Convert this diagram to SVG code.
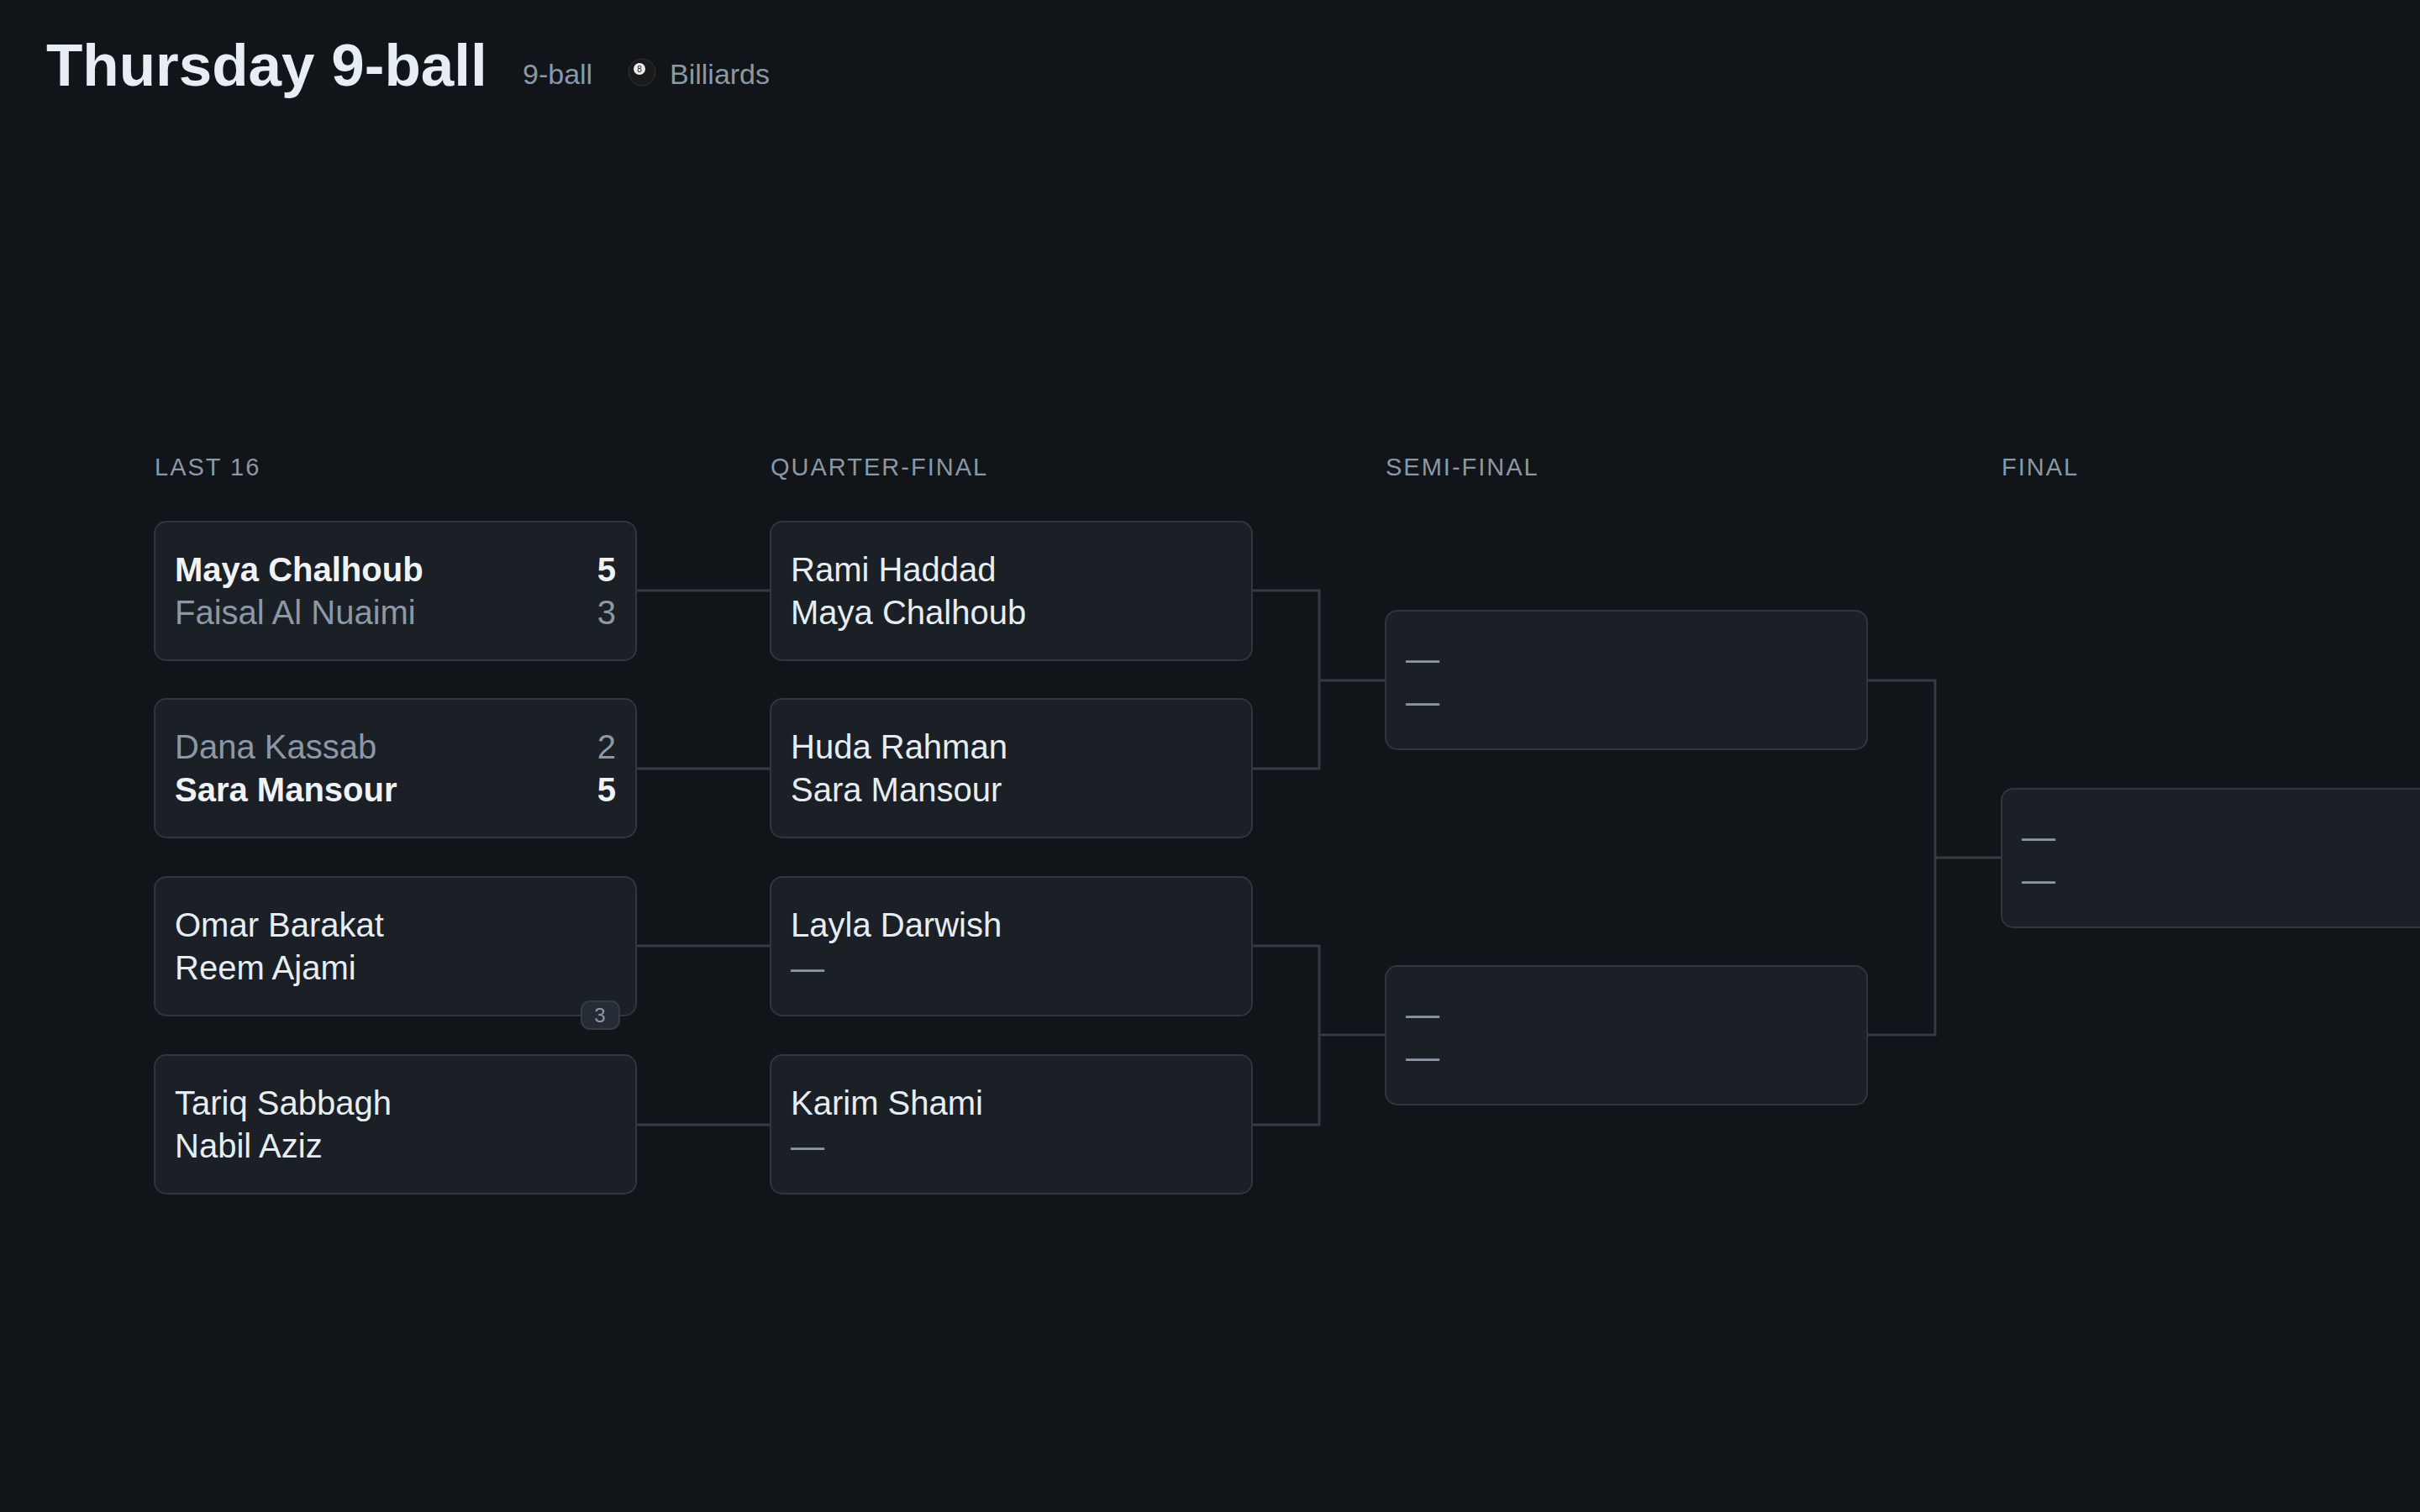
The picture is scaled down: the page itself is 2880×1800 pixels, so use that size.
<svg xmlns="http://www.w3.org/2000/svg" width="2880" height="1800" viewBox="0 0 2880 1800">
<style>
text{font-family:"Liberation Sans",Arial,sans-serif}
.box{fill:#1b1f26;stroke:#30363d;stroke-width:2}
.hd{font-size:29px;fill:#8b98a5;letter-spacing:2px}
.n{font-size:40px;fill:#e6edf3}
.w{font-size:40px;fill:#f0f3f6;font-weight:bold}
.l{font-size:40px;fill:#8b98a5}
.d{font-size:40px;fill:#8b98a5}
.c{fill:none;stroke:#353b44;stroke-width:3}
</style>
<rect width="2880" height="1800" fill="#111418"/>
<g id="header">
<text x="55" y="102" font-size="71" font-weight="bold" fill="#e6edf3">Thursday 9-ball</text>
<text x="622" y="100" font-size="34" fill="#8b98a5">9-ball</text>
<circle cx="764" cy="86" r="16" fill="#1a1a1a" stroke="#333" stroke-width="1"/>
<circle cx="761" cy="82" r="7" fill="#eee"/>
<text x="761" y="86" font-size="10" text-anchor="middle" fill="#111">8</text>
<text x="797" y="100" font-size="34" fill="#8b98a5">Billiards</text>
</g>
<g id="headers">
<text class="hd" x="184" y="566">LAST 16</text>
<text class="hd" x="917" y="566">QUARTER-FINAL</text>
<text class="hd" x="1649" y="566">SEMI-FINAL</text>
<text class="hd" x="2382" y="566">FINAL</text>
</g>
<g id="connectors">
<path class="c" d="M757 703H917M757 915H917M757 1126H917M757 1339H917"/>
<path class="c" d="M1490 703H1570V915H1490M1570 810H1649"/>
<path class="c" d="M1490 1126H1570V1339H1490M1570 1232H1649"/>
<path class="c" d="M2222 810H2303V1232H2222M2303 1021H2382"/>
</g>
<g id="r16-1"><rect class="box" x="184" y="621" width="573" height="165" rx="14"/>
<text class="w" x="208" y="692">Maya Chalhoub</text><text class="w" x="733" y="692" text-anchor="end">5</text>
<text class="l" x="208" y="743">Faisal Al Nuaimi</text><text class="l" x="733" y="743" text-anchor="end">3</text></g>
<g id="r16-2"><rect class="box" x="184" y="832" width="573" height="165" rx="14"/>
<text class="l" x="208" y="903">Dana Kassab</text><text class="l" x="733" y="903" text-anchor="end">2</text>
<text class="w" x="208" y="954">Sara Mansour</text><text class="w" x="733" y="954" text-anchor="end">5</text></g>
<g id="r16-3"><rect class="box" x="184" y="1044" width="573" height="165" rx="14"/>
<text class="n" x="208" y="1115">Omar Barakat</text>
<text class="n" x="208" y="1166">Reem Ajami</text>
<rect x="692" y="1192" width="45" height="33" rx="10" fill="#262c35" stroke="#353b44" stroke-width="2"/>
<text x="714" y="1217" font-size="24" fill="#8b98a5" text-anchor="middle">3</text></g>
<g id="r16-4"><rect class="box" x="184" y="1256" width="573" height="165" rx="14"/>
<text class="n" x="208" y="1327">Tariq Sabbagh</text>
<text class="n" x="208" y="1378">Nabil Aziz</text></g>
<g id="qf-1"><rect class="box" x="917" y="621" width="573" height="165" rx="14"/>
<text class="n" x="941" y="692">Rami Haddad</text>
<text class="n" x="941" y="743">Maya Chalhoub</text></g>
<g id="qf-2"><rect class="box" x="917" y="832" width="573" height="165" rx="14"/>
<text class="n" x="941" y="903">Huda Rahman</text>
<text class="n" x="941" y="954">Sara Mansour</text></g>
<g id="qf-3"><rect class="box" x="917" y="1044" width="573" height="165" rx="14"/>
<text class="n" x="941" y="1115">Layla Darwish</text>
<text class="d" x="941" y="1166">—</text></g>
<g id="qf-4"><rect class="box" x="917" y="1256" width="573" height="165" rx="14"/>
<text class="n" x="941" y="1327">Karim Shami</text>
<text class="d" x="941" y="1378">—</text></g>
<g id="sf-1"><rect class="box" x="1649" y="727" width="573" height="165" rx="14"/>
<text class="d" x="1673" y="798">—</text><text class="d" x="1673" y="849">—</text></g>
<g id="sf-2"><rect class="box" x="1649" y="1150" width="573" height="165" rx="14"/>
<text class="d" x="1673" y="1221">—</text><text class="d" x="1673" y="1272">—</text></g>
<g id="final"><rect class="box" x="2382" y="939" width="600" height="165" rx="14"/>
<text class="d" x="2406" y="1010">—</text><text class="d" x="2406" y="1061">—</text></g>
</svg>
